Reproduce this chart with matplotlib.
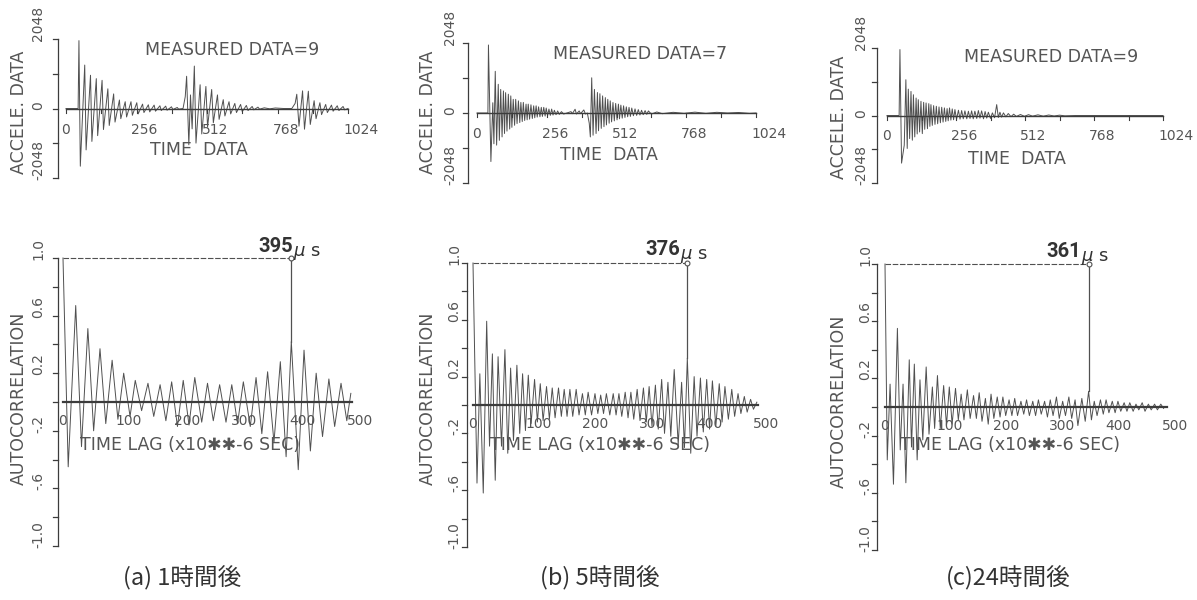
import numpy as np
import matplotlib
matplotlib.use("Agg")
import matplotlib.pyplot as plt

plt.rcParams["font.family"] = ["DejaVu Sans"]

# ---------------- acceleration records: sample index / A-D value ----------------
acc_a_t = [0, 44, 47, 52, 68, 73, 89, 94, 110, 115, 131, 136, 152, 157, 173, 178, 194, 199, 215, 220,
           236, 241, 257, 262, 278, 283, 299, 304, 320, 325, 341, 346, 362, 367, 383, 388, 404, 409,
           425, 433, 438, 446, 452, 458, 466, 472, 487, 493, 508, 514, 529, 535, 550, 556, 571, 577,
           592, 598, 613, 619, 634, 640, 655, 661, 676, 682, 697, 703, 720, 740, 760, 790,
           820, 832, 838, 846, 859, 866, 880, 887, 901, 908, 922, 928, 943, 949, 964, 970, 985, 991,
           1006, 1012, 1024]
acc_a_v = [0, 0, 2000, -1700, 1280, -1220, 980, -970, 880, -800, 830, -620, 580, -500, 430, -400, 250, -300, 200, -250,
           200, -200, 170, -160, 130, -120, 110, -100, 100, -80, 80, -60, 70, -50, 50, -30, 30, -20,
           0, 350, 950, -1070, 400, -600, 1250, -1020, 700, -750, 650, -550, 560, -420, 400, -320, 260, -220,
           200, -160, 150, -120, 120, -90, 90, -60, 60, -40, 40, -20, 20, -10, 15, 0,
           0, 150, 420, -520, 520, -610, 510, -470, 230, -300, 170, -180, 120, -120, 100, -80, 80, -60,
           60, -40, 0]

acc_b_t = [0, 40, 42, 51, 58, 62, 67, 72, 78, 82, 87, 92, 97, 101, 105, 110, 115, 120, 124, 128,
           133, 138, 142, 147, 152, 157, 161, 166, 170, 175, 180, 184, 188, 193, 198, 203, 208, 212, 217, 221,
           226, 231, 236, 240, 245, 250, 254, 259, 264, 269, 274, 279, 284, 290, 296, 302, 310, 318, 330,
           345, 350, 360, 365, 375, 380, 392, 398,
           405, 412, 416, 421, 426, 431, 437, 442, 446, 451, 456, 461, 466, 471, 475, 480, 485, 489, 494, 499,
           504, 509, 514, 519, 523, 528, 533, 538, 543, 548, 553, 558, 563, 568, 574, 580, 586, 592, 598, 604,
           610, 617, 623, 629, 640, 660, 680, 700, 720, 760, 800, 840, 880, 920, 960, 1000, 1024]
acc_b_v = [0, 0, 1990, -1420, 300, -900, 1220, -940, 840, -800, 690, -700, 645, -600, 595, -530, 550, -470, 500, -420,
           400, -360, 400, -310, 355, -280, 310, -250, 310, -220, 260, -200, 260, -180, 240, -160, 210, -140, 210, -120,
           180, -110, 165, -100, 165, -90, 145, -80, 115, -70, 115, -60, 80, -50, 60, -40, 40, -30, 0,
           40, -20, 110, -30, 60, -20, 90, -30,
           0, -300, -700, 1030, -650, 690, -600, 600, -520, 565, -450, 500, -400, 450, -350, 400, -300, 355, -260, 307,
           -230, 280, -200, 260, -170, 230, -150, 210, -130, 180, -110, 165, -100, 145, -80, 120, -70, 100, -60, 80,
           -50, 70, -40, 60, -30, 30, -20, 0, 20, -10, 25, -10, 20, 0, 15, -10, 0]

acc_c_t = [0, 45, 48, 54, 64, 70, 75, 79, 84, 89, 94, 98, 103, 108, 112, 116, 121, 126, 131, 136,
           140, 145, 150, 155, 159, 163, 168, 173, 178, 183, 188, 193, 198, 203, 208, 213, 218, 223, 227, 232,
           237, 242, 247, 252, 258, 265, 271, 277, 283, 289, 296, 302, 308, 314, 320, 326, 333, 339, 345, 351,
           358, 364, 370, 376, 384, 391, 399, 407, 413, 419, 425, 432, 441, 450, 460, 470, 480, 495, 510, 525,
           540, 560, 580, 600, 620, 640, 660, 700, 1024]
acc_c_v = [0, 0, 2000, -1445, -900, 1085, -1000, 800, -700, 730, -750, 630, -650, 530, -560, 480, -500, 430, -550, 400,
           -420, 380, -400, 360, -330, 330, -300, 300, -270, 280, -250, 260, -220, 250, -200, 230, -180, 210, -160, 230,
           -140, 200, -130, 180, -120, 160, -110, 150, -100, 140, -100, 130, -90, 140, -100, 130, -90, 150, -80, 140,
           -100, 120, -80, 100, -90, 80, -70, 330, -60, 100, -50, 80, -40, 60, -35, 40, -30, 30, -25, 25,
           -20, 20, -20, 15, -15, 10, -10, 0, 0]

# ---------------- autocorrelation extrema: lag (x10**-6 s) / coefficient ----------------
acf_a_peak_lag = [22, 43, 64, 85, 105, 125, 147, 168, 188, 208, 228, 250, 271, 292, 312, 334, 354, 376,
                  395, 417, 438, 460, 481, 498]
acf_a_peak_val = [0.67, 0.51, 0.37, 0.29, 0.20, 0.15, 0.13, 0.12, 0.14, 0.15, 0.17, 0.13, 0.12, 0.12, 0.14,
                  0.17, 0.21, 0.28, 0.42, 0.36, 0.20, 0.16, 0.13, 0.06]
acf_a_trough_lag = [9, 32, 53, 74, 95, 116, 136, 157, 178, 198, 218, 240, 260, 282, 302, 324, 344, 365,
                    386, 407, 428, 449, 470, 491]
acf_a_trough_val = [-0.45, -0.31, -0.20, -0.15, -0.12, -0.10, -0.06, -0.10, -0.13, -0.17, -0.16, -0.14, -0.13,
                    -0.14, -0.15, -0.17, -0.22, -0.28, -0.38, -0.47, -0.34, -0.24, -0.17, -0.13]

acf_b_peak_lag = [12, 24, 34, 44, 56, 66, 77, 87, 97, 108, 118, 129, 139, 150, 160, 170, 181, 192, 202, 214,
                  224, 234, 246, 256, 267, 277, 288, 299, 309, 320, 331, 342, 353, 366, 376, 388, 399, 410,
                  420, 432, 442, 454, 465, 476, 487, 498]
acf_b_peak_val = [0.22, 0.59, 0.36, 0.34, 0.39, 0.26, 0.28, 0.22, 0.21, 0.18, 0.15, 0.13, 0.12, 0.12, 0.11,
                  0.11, 0.11, 0.08, 0.09, 0.08, 0.07, 0.08, 0.08, 0.08, 0.09, 0.09, 0.11, 0.12, 0.13, 0.14,
                  0.18, 0.16, 0.25, 0.16, 0.33, 0.20, 0.19, 0.18, 0.17, 0.15, 0.13, 0.11, 0.08, 0.06, 0.04, 0.02]
acf_b_trough_lag = [7, 18, 29, 39, 50, 61, 71, 82, 92, 102, 113, 123, 134, 144, 155, 165, 175, 186, 197, 208,
                    219, 229, 240, 251, 261, 272, 282, 293, 304, 314, 325, 336, 347, 360, 371, 382, 393, 404,
                    415, 426, 437, 448, 459, 470, 481, 492]
acf_b_trough_val = [-0.55, -0.62, -0.29, -0.53, -0.29, -0.34, -0.25, -0.20, -0.18, -0.13, -0.12, -0.11, -0.10,
                    -0.09, -0.08, -0.08, -0.08, -0.07, -0.07, -0.07, -0.06, -0.06, -0.07, -0.07, -0.08, -0.09,
                    -0.10, -0.11, -0.12, -0.15, -0.17, -0.20, -0.22, -0.28, -0.30, -0.34, -0.22, -0.19, -0.17,
                    -0.15, -0.12, -0.10, -0.08, -0.06, -0.05, -0.03]

acf_c_peak_lag = [9, 22, 32, 43, 52, 62, 73, 84, 93, 104, 114, 125, 135, 146, 157, 167, 178, 188, 199, 209,
                  220, 230, 241, 251, 262, 272, 283, 293, 304, 315, 326, 337, 349, 361, 371, 382, 392, 403,
                  413, 424, 434, 445, 456, 467, 478, 489]
acf_c_peak_val = [0.16, 0.55, 0.16, 0.33, 0.30, 0.19, 0.28, 0.14, 0.22, 0.15, 0.14, 0.13, 0.09, 0.12, 0.08,
                  0.10, 0.06, 0.09, 0.07, 0.07, 0.05, 0.06, 0.04, 0.05, 0.04, 0.05, 0.04, 0.05, 0.07, 0.04,
                  0.07, 0.05, 0.06, 0.11, 0.04, 0.05, 0.05, 0.04, 0.04, 0.03, 0.03, 0.02, 0.03, 0.02, 0.02, 0.02]
acf_c_trough_lag = [4, 15, 27, 37, 47, 57, 67, 78, 88, 98, 109, 119, 130, 140, 151, 162, 172, 183, 193, 204,
                    214, 225, 235, 246, 256, 267, 277, 288, 298, 309, 320, 331, 342, 355, 366, 376, 387, 397,
                    408, 418, 429, 440, 450, 461, 472, 483, 494]
acf_c_trough_val = [-0.37, -0.54, -0.30, -0.53, -0.28, -0.37, -0.23, -0.19, -0.15, -0.15, -0.13, -0.12, -0.09,
                    -0.09, -0.08, -0.08, -0.10, -0.12, -0.08, -0.07, -0.06, -0.06, -0.06, -0.05, -0.06, -0.06,
                    -0.05, -0.07, -0.06, -0.08, -0.06, -0.08, -0.13, -0.10, -0.09, -0.06, -0.05, -0.04, -0.04,
                    -0.03, -0.03, -0.03, -0.02, -0.03, -0.02, -0.02, -0.01]

measured_counts = [9, 7, 9]
period_us = [395, 376, 361]
captions = ["(a) 1時間後", "(b) 5時間後", "(c)24時間後"]

time_ticks = [0, 256, 512, 768, 1024]
accel_ticks = [2048, 0, -2048]
lag_ticks = [0, 100, 200, 300, 400, 500]
acf_ticks = [1.0, 0.6, 0.2, -0.2, -0.6, -1.0]
acf_tick_text = ["1.0", "0.6", "0.2", "-.2", "-.6", "-1.0"]

# ---------------- page layout (pixels on a 1197 x 600 sheet) ----------------
W, H = 1197, 600
INK = "#505050"
AXIS_INK = "#3c3c3c"
TXT = "#555555"

# x of first sample, x of last sample, y of top value, y of bottom value, x of y-axis, label gap
TOP_BOX = [(66, 348, 39, 178, 58, 13), (477, 756, 43, 183, 468, 11), (887, 1163, 48, 183, 877, 9)]
ACF_BOX = [(63, 352, 258, 546, 58, 13), (473, 758, 263, 547, 467, 6), (885, 1167, 264, 550, 877, 5)]
TITLE_POS = [(145, 50), (553, 54), (964, 57)]
TIME_POS = [(150, 150), (560, 155), (968, 159)]
LAG_POS = [(80, 445), (490, 445), (900, 445)]
YLAB_TOP = [(19, 112), (428, 112), (839, 117)]
YLAB_ACF = [(19, 398), (428, 398), (839, 401)]
PERIOD_POS = [(258, 252), (645, 255), (1046, 257)]
CAPTION_POS = [182, 600, 1008]

fig = plt.figure(figsize=(W / 100, H / 100), dpi=100)
fig.patch.set_facecolor("white")


def ptext(x, y, s, **kw):
    return fig.text(x / W, 1 - y / H, s, **kw)


def box_axes(x0, x1, yt, yb):
    ax = fig.add_axes([x0 / W, 1 - yb / H, (x1 - x0) / W, (yb - yt) / H])
    ax.set_axis_off()
    return ax


def acf_series(pl, pv, tl, tv):
    lags = np.array([0] + pl + tl, dtype=float)
    vals = np.array([1.0] + pv + tv, dtype=float)
    order = np.argsort(lags, kind="stable")
    return lags[order], vals[order]


def top_panel(i, t, v):
    x0, x1, yt, yb, xa, gap = TOP_BOX[i]
    ax = box_axes(x0, x1, yt, yb)
    ax.set_xlim(0, 1024)
    ax.set_ylim(-2048, 2048)
    dx = 1024 / (x1 - x0)
    dy = 4096 / (yb - yt)
    ax.plot(t, v, color=INK, lw=0.7, clip_on=False)
    ax.plot([0, 1024], [0, 0], color=AXIS_INK, lw=1.0, clip_on=False)
    for k in range(0, 1025, 128):
        ax.plot([k, k], [0, -4 * dy], color=AXIS_INK, lw=0.8, clip_on=False)
    xad = -(x0 - xa) * dx
    ax.plot([xad, xad], [-2048, 2048], color=AXIS_INK, lw=0.9, clip_on=False)
    for k in (-2048, -1024, 0, 1024, 2048):
        ax.plot([xad - 5 * dx, xad], [k, k], color=AXIS_INK, lw=0.9, clip_on=False)
    for k in time_ticks:
        ax.text(k - 5 * dx, -21 * dy, str(k), ha="left", va="center", fontsize=10, color=TXT)
    for k in accel_ticks:
        ax.text(xad - gap * dx, k - 2 * dy, str(k), rotation=90, ha="right", va="bottom",
                fontsize=10, color=TXT)
    tx, ty = TITLE_POS[i]
    ptext(tx, ty, f"MEASURED DATA={measured_counts[i]}", ha="left", va="center", fontsize=12.5, color=TXT)
    tx, ty = TIME_POS[i]
    ptext(tx, ty, "TIME  DATA", ha="left", va="center", fontsize=12.5, color=TXT)
    tx, ty = YLAB_TOP[i]
    ptext(tx, ty, "ACCELE. DATA", ha="center", va="center", rotation=90, fontsize=12.5, color=TXT)


def acf_panel(i, lags, vals):
    x0, x1, yt, yb, xa, gap = ACF_BOX[i]
    ax = box_axes(x0, x1, yt, yb)
    ax.set_xlim(0, 500)
    ax.set_ylim(-1, 1)
    dx = 500 / (x1 - x0)
    dy = 2 / (yb - yt)
    ax.plot(lags, vals, color=INK, lw=0.7, clip_on=False)
    ax.plot([0, 500], [0, 0], color=AXIS_INK, lw=1.6, clip_on=False)
    xad = -(x0 - xa) * dx
    ax.plot([xad, xad], [-1, 1], color=AXIS_INK, lw=0.9, clip_on=False)
    for k in np.linspace(-1, 1, 11):
        ax.plot([xad - 5 * dx, xad], [k, k], color=AXIS_INK, lw=0.9, clip_on=False)
    for k in lag_ticks:
        ax.text(k - 5 * dx, -19 * dy, str(k), ha="left", va="center", fontsize=10, color=TXT)
    for k, s in zip(acf_ticks, acf_tick_text):
        ax.text(xad - gap * dx, k - 2 * dy, s, rotation=90, ha="right", va="bottom",
                fontsize=10, color=TXT)
    # bracket from lag 0 to the repeating peak that gives the period
    p = period_us[i]
    peak = vals[list(lags).index(p)]
    ax.plot([0, p], [1, 1], color=INK, lw=0.8, ls=(0, (5, 1.5)), clip_on=False)
    ax.plot([p, p], [1, peak], color=INK, lw=0.9, clip_on=False)
    ax.plot([p], [1], "o", ms=3.5, mfc="white", mec=INK, mew=0.8, clip_on=False)
    nx, ny = PERIOD_POS[i]
    num = ptext(nx, ny, f"{p}", ha="left", va="baseline", fontsize=14.5, fontweight="bold",
                family="Roboto", color="#333333")
    ax.annotate(r"$\mu$ s", xy=(1, 0), xycoords=num, xytext=(0.5, 0), textcoords="offset points",
                ha="left", va="baseline", fontsize=13, color="#333333", annotation_clip=False)
    tx, ty = LAG_POS[i]
    ptext(tx, ty, "TIME LAG (x10\u2731\u2731-6 SEC)", ha="left", va="center", fontsize=12.5, color=TXT)
    tx, ty = YLAB_ACF[i]
    ptext(tx, ty, "AUTOCORRELATION", ha="center", va="center", rotation=90, fontsize=12.5, color=TXT)
    ptext(CAPTION_POS[i], 578, captions[i], ha="center", va="center", fontsize=17,
          family=["Noto Sans CJK JP", "DejaVu Sans"], color="#333333")


top_panel(0, acc_a_t, acc_a_v)
top_panel(1, acc_b_t, acc_b_v)
top_panel(2, acc_c_t, acc_c_v)
acf_panel(0, *acf_series(acf_a_peak_lag, acf_a_peak_val, acf_a_trough_lag, acf_a_trough_val))
acf_panel(1, *acf_series(acf_b_peak_lag, acf_b_peak_val, acf_b_trough_lag, acf_b_trough_val))
acf_panel(2, *acf_series(acf_c_peak_lag, acf_c_peak_val, acf_c_trough_lag, acf_c_trough_val))

fig.savefig("out.png", dpi=100, facecolor="white")
